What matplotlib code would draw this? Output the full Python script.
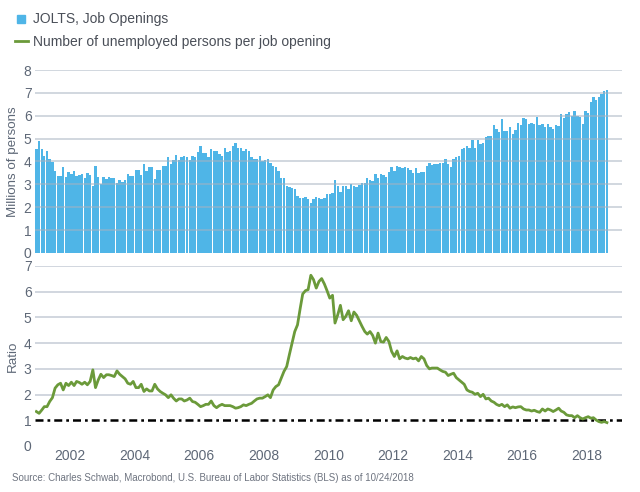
import numpy as np
import pandas as pd
import matplotlib
matplotlib.use("Agg")
import matplotlib.pyplot as plt
import matplotlib.dates as mdates
from matplotlib.lines import Line2D

plt.rcParams["font.family"] = ["Liberation Sans", "DejaVu Sans"]

# monthly data Dec 2000 .. Aug 2018
months = pd.date_range("2000-12-01", periods=213, freq="MS")

job_openings = [
    4.53, 4.9, 4.53, 4.25, 4.47, 4.1, 3.96, 3.6, 3.36, 3.36, 3.74, 3.33,
    3.52, 3.45, 3.58, 3.36, 3.4, 3.45, 3.3, 3.5, 3.4, 2.93, 3.8, 3.33,
    3.0, 3.33, 3.23, 3.33, 3.26, 3.26, 3.04, 3.19, 3.11, 3.19, 3.45, 3.38,
    3.36, 3.62, 3.62, 3.4, 3.89, 3.6, 3.74, 3.77, 3.23, 3.62, 3.65, 3.8,
    3.8, 4.2, 3.89, 4.06, 4.28, 4.06, 4.2, 4.24, 4.18, 4.06, 4.24, 4.18,
    4.42, 4.67, 4.38, 4.35, 4.2, 4.53, 4.47, 4.47, 4.32, 4.25, 4.61, 4.42,
    4.47, 4.67, 4.79, 4.57, 4.61, 4.47, 4.53, 4.47, 4.2, 4.09, 4.09, 4.24,
    4.03, 4.06, 4.09, 3.92, 3.8, 3.74, 3.6, 3.3, 3.26, 2.93, 2.87, 2.82,
    2.78, 2.49, 2.39, 2.42, 2.43, 2.34, 2.2, 2.34, 2.46, 2.39, 2.34, 2.39,
    2.6, 2.6, 2.63, 3.19, 2.93, 2.68, 2.93, 2.93, 2.78, 3.01, 2.93, 2.87,
    2.97, 3.04, 3.07, 3.26, 3.19, 3.16, 3.45, 3.26, 3.45, 3.4, 3.33, 3.55,
    3.74, 3.6, 3.8, 3.74, 3.7, 3.74, 3.7, 3.65, 3.5, 3.7, 3.48, 3.55,
    3.55, 3.8, 3.94, 3.84, 3.89, 3.89, 3.92, 3.94, 4.09, 3.89, 3.74, 4.09,
    4.18, 4.24, 4.53, 4.61, 4.67, 4.61, 4.93, 4.57, 4.93, 4.76, 4.82, 5.08,
    5.11, 5.11, 5.59, 5.44, 5.3, 5.84, 5.34, 5.34, 5.52, 5.2, 5.37, 5.69,
    5.59, 5.92, 5.84, 5.66, 5.69, 5.63, 5.95, 5.59, 5.63, 5.52, 5.63, 5.49,
    5.44, 5.59, 5.55, 6.07, 5.88, 6.07, 6.17, 5.98, 6.21, 5.98, 5.95, 5.66,
    6.21, 6.1, 6.61, 6.83, 6.71, 6.8, 6.97, 7.09, 7.12,
]

unemployed_per_opening = [
    1.34, 1.27, 1.4, 1.53, 1.53, 1.73, 1.88, 2.25, 2.38, 2.44, 2.18, 2.44,
    2.35, 2.48, 2.35, 2.51, 2.47, 2.4, 2.48, 2.38, 2.51, 2.96, 2.27, 2.57,
    2.79, 2.66, 2.77, 2.77, 2.74, 2.7, 2.92, 2.79, 2.7, 2.61, 2.44, 2.4,
    2.51, 2.27, 2.27, 2.4, 2.12, 2.22, 2.14, 2.14, 2.4, 2.22, 2.12, 2.05,
    1.99, 1.88, 1.99, 1.86, 1.75, 1.83, 1.83, 1.75, 1.79, 1.86, 1.73, 1.7,
    1.62, 1.53, 1.57, 1.62, 1.62, 1.75, 1.57, 1.49, 1.57, 1.62, 1.57, 1.57,
    1.57, 1.53, 1.47, 1.49, 1.53, 1.6, 1.57, 1.62, 1.66, 1.75, 1.83, 1.86,
    1.86, 1.92, 1.99, 1.88, 2.18, 2.31, 2.38, 2.64, 2.9, 3.09, 3.55, 4.0,
    4.45, 4.71, 5.36, 5.91, 6.04, 6.08, 6.64, 6.47, 6.14, 6.4, 6.51, 6.3,
    6.04, 5.75, 5.86, 4.78, 5.1, 5.47, 4.91, 5.04, 5.26, 4.87, 5.21, 5.08,
    4.87, 4.65, 4.45, 4.35, 4.45, 4.3, 4.0, 4.39, 4.06, 4.04, 4.22, 4.06,
    3.68, 3.48, 3.7, 3.39, 3.48, 3.42, 3.39, 3.44, 3.39, 3.42, 3.31, 3.48,
    3.39, 3.13, 3.0, 3.03, 3.03, 3.03, 2.96, 2.9, 2.87, 2.74, 2.79, 2.83,
    2.66, 2.57, 2.48, 2.4, 2.18, 2.12, 2.09, 2.01, 2.05, 1.92, 2.01, 1.83,
    1.86, 1.75, 1.7, 1.62, 1.57, 1.62, 1.53, 1.6, 1.47, 1.52, 1.49, 1.52,
    1.53, 1.44, 1.4, 1.4, 1.36, 1.39, 1.34, 1.31, 1.44, 1.36, 1.44, 1.4,
    1.34, 1.4, 1.47, 1.36, 1.31, 1.21, 1.18, 1.18, 1.1, 1.18, 1.1, 1.05,
    1.1, 1.14, 1.08, 1.1, 1.01, 0.95, 0.92, 0.95, 0.91,
]

year_ticks = [2002, 2004, 2006, 2008, 2010, 2012, 2014, 2016, 2018]

bar_color = "#4FB5E7"
line_color = "#6B9A3A"
grid_color = "#C9D0D9"
text_color = "#5E6877"

x = months + pd.Timedelta(days=15)
x_left = pd.Timestamp("2000-12-01")
x_right = pd.Timestamp("2019-02-01")

fig = plt.figure(figsize=(6.4, 4.92), dpi=100)

# верхняя панель - вакансии
ax1 = fig.add_axes([0.0547, 0.4858, 0.917, 0.3719])
ax1.bar(x, job_openings, width=27, color=bar_color, linewidth=0, zorder=2)
for v in range(1, 9):
    ax1.axhline(v, color="#A7B2C0", alpha=0.6, lw=1.2, zorder=3)
ax1.set_ylim(0, 8)
ax1.set_yticks(range(0, 9))
ax1.set_xlim(x_left, x_right)
ax1.set_xticks([])
ax1.set_ylabel("Millions of persons", fontsize=9.6, color=text_color)

# нижняя панель - безработные на вакансию
ax2 = fig.add_axes([0.0547, 0.0935, 0.917, 0.3659])
for v in range(2, 8):
    ax2.axhline(v, color=grid_color, lw=1.2, zorder=1)
ax2.axhline(1, color="black", lw=1.8, linestyle=(0, (3.2, 1.6, 1.1, 1.6)), zorder=2)
ax2.plot(x, unemployed_per_opening, color=line_color, lw=2.0, zorder=3)
ax2.set_ylim(0, 7)
ax2.set_yticks(range(0, 8))
ax2.set_xlim(x_left, x_right)
ax2.set_xticks([pd.Timestamp(f"{y}-01-01") for y in year_ticks])
ax2.xaxis.set_major_formatter(mdates.DateFormatter("%Y"))
ax2.set_ylabel("Ratio", fontsize=9.6, color=text_color)

for ax in (ax1, ax2):
    for s in ax.spines.values():
        s.set_visible(False)
    ax.tick_params(length=0, labelsize=10, labelcolor=text_color, pad=2.5)
    ax.yaxis.set_label_coords(-0.027, 0.5)

handles = [
    Line2D([], [], marker="s", markersize=5.5, linestyle="none",
           color=bar_color),
    Line2D([], [], color=line_color, lw=2),
]
fig.legend(
    handles,
    ["JOLTS, Job Openings", "Number of unemployed persons per job opening"],
    loc="upper left",
    bbox_to_anchor=(0.004, 1.0),
    frameon=False,
    fontsize=10,
    labelcolor="#4A4F58",
    handlelength=0.9,
    handletextpad=0.4,
    labelspacing=0.6,
)

fig.text(
    0.018, 0.022,
    "Source: Charles Schwab, Macrobond, U.S. Bureau of Labor Statistics (BLS) as of 10/24/2018",
    fontsize=7.05, color="#6E7480",
)

fig.savefig("out.png", dpi=100)
